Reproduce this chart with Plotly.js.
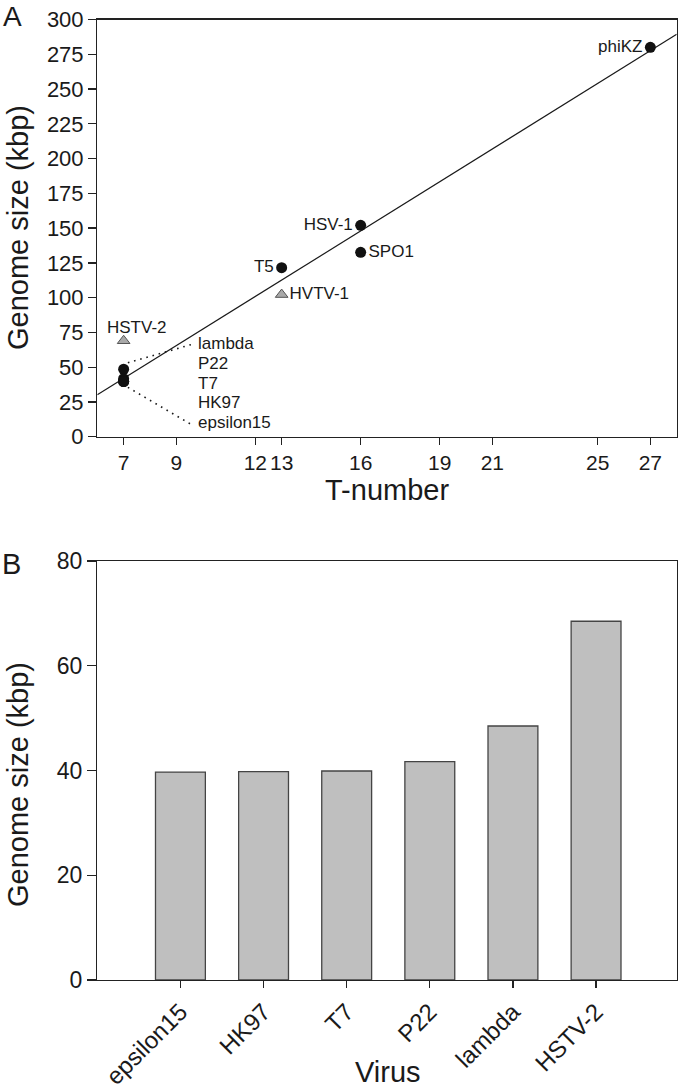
<!DOCTYPE html>
<html>
<head>
<meta charset="utf-8">
<script src="https://cdn.plot.ly/plotly-3.0.1.min.js"></script>
<style>html,body{margin:0;padding:0;background:#fff;}#chart{width:680px;height:1090px;}</style>
</head>
<body>
<div id="chart"></div>
<script>
// Panel A: viruses with circles (used for the regression line)
const phageNames = ['phiKZ', 'HSV-1', 'SPO1', 'T5', 'lambda', 'P22', 'T7', 'HK97', 'epsilon15'];
const phageT = [27, 16, 16, 13, 7, 7, 7, 7, 7];
const phageSize = [280, 152, 132.6, 121.5, 48.5, 41.7, 39.9, 39.7, 39.7];
const phageLabelPos = ['middle left', 'middle left', 'middle right', 'middle left', '', '', '', '', ''];
// Panel A: archaeal viruses (grey triangles)
const archNames = ['HSTV-2', 'HVTV-1'];
const archT = [7, 13];
const archSize = [69, 102.2];
const tTicks = [7, 9, 12, 13, 16, 19, 21, 25, 27];
// Panel B
const barViruses = ['epsilon15', 'HK97', 'T7', 'P22', 'lambda', 'HSTV-2'];
const barSize = [39.7, 39.8, 39.9, 41.7, 48.5, 68.5];

// least-squares fit through the circle points
const n = phageT.length;
const mx = phageT.reduce((a, b) => a + b, 0) / n;
const my = phageSize.reduce((a, b) => a + b, 0) / n;
let sxy = 0, sxx = 0;
for (let i = 0; i < n; i++) { sxy += (phageT[i] - mx) * (phageSize[i] - my); sxx += (phageT[i] - mx) ** 2; }
const slope = sxy / sxx, icpt = my - slope * mx;
const fitX = [6, 28];
const fitY = fitX.map(x => icpt + slope * x);

const FONT = 'Liberation Sans, Arial, Helvetica, sans-serif';
const INK = '#1a1a1a';
const H = 1090, W = 680;

const phageText = phageNames.map((nm, i) => phageLabelPos[i] ? nm : '');
const traces = [
  {x: fitX, y: fitY, mode: 'lines', line: {color: INK, width: 1.2}, xaxis: 'x', yaxis: 'y', hoverinfo: 'skip'},
  {x: phageT, y: phageSize, mode: 'markers+text', text: phageText,
   textposition: phageLabelPos.map(p => p || 'middle left'),
   textfont: {family: FONT, size: 17, color: INK},
   marker: {color: '#111', size: 11, line: {color: '#111', width: 0}}, xaxis: 'x', yaxis: 'y', cliponaxis: false},
  {x: [archT[1]], y: [archSize[1]], mode: 'markers+text', text: [archNames[1]], textposition: 'middle right',
   textfont: {family: FONT, size: 17, color: INK},
   marker: {symbol: 'triangle-up', color: '#a9a9a9', size: 11, line: {color: '#555', width: 1}}, xaxis: 'x', yaxis: 'y'},
  {x: [archT[0]], y: [archSize[0]], mode: 'markers',
   marker: {symbol: 'triangle-up', color: '#a9a9a9', size: 11, line: {color: '#555', width: 1}}, xaxis: 'x', yaxis: 'y'},
  {x: barViruses, y: barSize, type: 'bar', xaxis: 'x2', yaxis: 'y2',
   marker: {color: '#bfbfbf', line: {color: '#444', width: 1.3}}}
];

// labels for the T=7 cluster
const clusterNames = phageNames.filter((nm, i) => phageT[i] === 7);
const annotations = clusterNames.map((nm, i) => ({
  x: 9.76, y: 67.1 - i * 14.25, xref: 'x', yref: 'y', text: nm, showarrow: false,
  xanchor: 'left', yanchor: 'middle', font: {family: FONT, size: 17, color: INK}
}));
annotations.push({x: archT[0], y: archSize[0], xref: 'x', yref: 'y', text: archNames[0], showarrow: false,
  xanchor: 'center', yanchor: 'middle', xshift: 13, yshift: 13, font: {family: FONT, size: 17, color: INK}});
// panel letters and axis titles
const titleFont = {family: FONT, size: 29, color: INK};
annotations.push({x: 1 / W, y: 1 - 16 / H, xref: 'paper', yref: 'paper', text: 'A', showarrow: false,
  xanchor: 'left', yanchor: 'middle', font: {family: FONT, size: 28, color: INK}});
annotations.push({x: 0 / W, y: 1 - 564 / H, xref: 'paper', yref: 'paper', text: 'B', showarrow: false,
  xanchor: 'left', yanchor: 'middle', font: {family: FONT, size: 29, color: INK}});
annotations.push({x: 18 / W, y: 1 - 228 / H, xref: 'paper', yref: 'paper', text: 'Genome size (kbp)', showarrow: false,
  textangle: -90, xanchor: 'center', yanchor: 'middle', font: titleFont});
annotations.push({x: 18 / W, y: 1 - 785 / H, xref: 'paper', yref: 'paper', text: 'Genome size (kbp)', showarrow: false,
  textangle: -90, xanchor: 'center', yanchor: 'middle', font: titleFont});
annotations.push({x: 387 / W, y: 1 - 490 / H, xref: 'paper', yref: 'paper', text: 'T-number', showarrow: false,
  xanchor: 'center', yanchor: 'middle', font: titleFont});
annotations.push({x: 388 / W, y: 0, xref: 'paper', yref: 'paper', text: 'Virus', showarrow: false,
  xanchor: 'center', yanchor: 'bottom', font: titleFont});

const dotLine = {color: INK, width: 1.6, dash: '1.6px,4.8px'};
const shapes = [
  {type: 'line', xref: 'x', yref: 'y', x0: 7.16, y0: 53.2, x1: 9.63, y1: 66.6, line: dotLine},
  {type: 'line', xref: 'x', yref: 'y', x0: 7.16, y0: 35.5, x1: 9.54, y1: 9.1, line: dotLine}
];

const axBase = {showline: true, mirror: true, linecolor: '#222', linewidth: 1.3, ticks: 'outside',
  tickcolor: '#222', tickwidth: 1.3, showgrid: false, zeroline: false,
  tickfont: {family: FONT, size: 22, color: INK}};
const xDom = [97.3 / W, 676.7 / W];
const layout = {
  width: W, height: H, margin: {l: 0, r: 0, t: 0, b: 0},
  paper_bgcolor: '#fff', plot_bgcolor: '#fff', showlegend: false,
  font: {family: FONT, color: INK},
  xaxis: Object.assign({}, axBase, {domain: xDom, range: [6, 28], tickvals: tTicks, tickangle: 0, ticklen: 7, anchor: 'y',
    tickfont: {family: FONT, size: 21, color: INK}}),
  yaxis: Object.assign({}, axBase, {domain: [1 - 436.7 / H, 1 - 19.5 / H], range: [0, 300], tick0: 0, dtick: 25, ticklen: 8, anchor: 'x'}),
  xaxis2: Object.assign({}, axBase, {domain: xDom, range: [-1, 5.97], tickangle: -45, ticklen: 7, anchor: 'y2',
    tickfont: {family: FONT, size: 24, color: INK}}),
  yaxis2: Object.assign({}, axBase, {domain: [1 - 980 / H, 1 - 561 / H], range: [0, 80], tick0: 0, dtick: 20, ticklen: 9, anchor: 'x2',
    tickfont: {family: FONT, size: 23, color: INK}}),
  bargap: 0.4,
  annotations: annotations,
  shapes: shapes
};
Plotly.newPlot('chart', traces, layout, {staticPlot: true, displayModeBar: false});
</script>
</body>
</html>
